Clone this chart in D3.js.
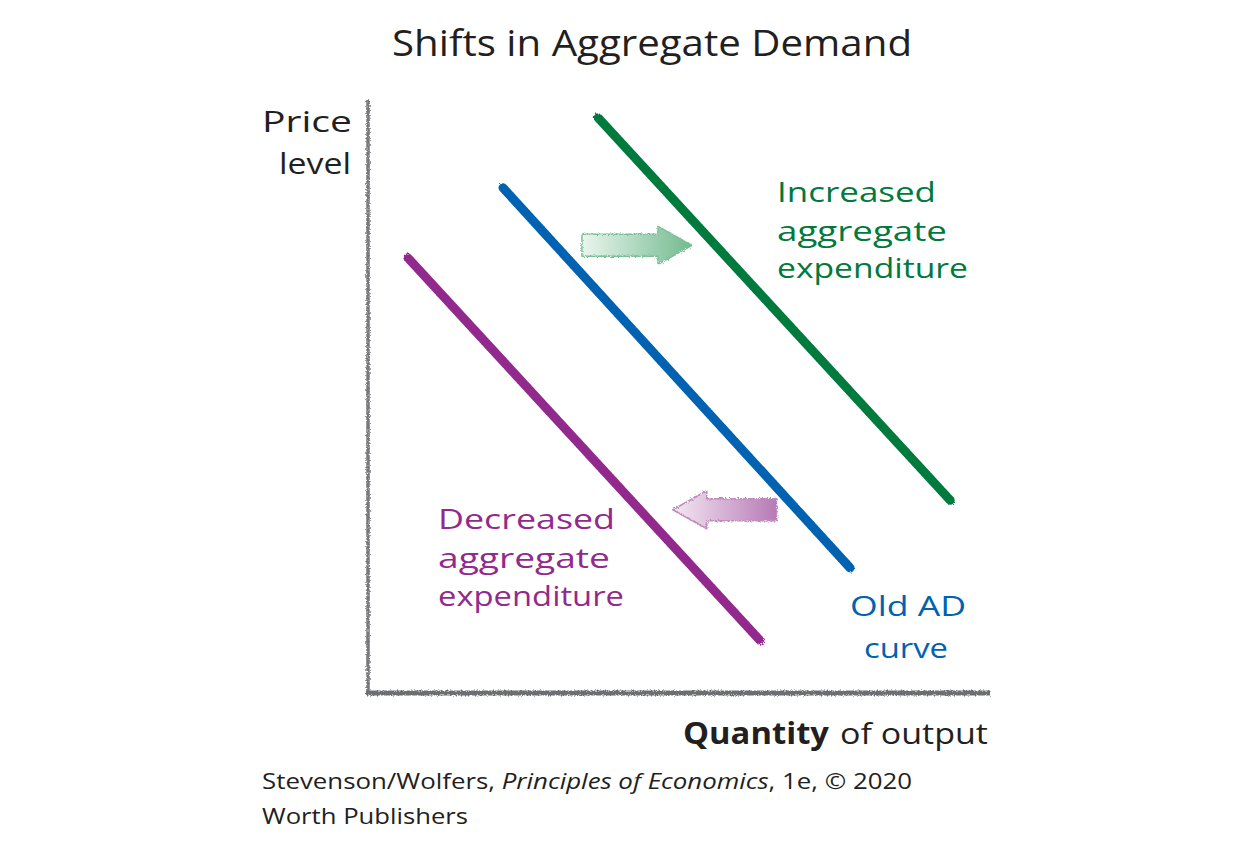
<!DOCTYPE html>
<html><head><meta charset="utf-8">
<script src="https://cdn.jsdelivr.net/npm/d3@7"></script>
<style>
html,body{margin:0;padding:0;background:#fff;}
svg{display:block;}
</style></head>
<body>
<script>
// ---- data (chart units: quantity 0-10, price level 0-10) ----
const curveNames = ["Decreased", "Old AD", "Increased"];
const curveStart = [[0.64, 7.34], [2.17, 8.52], [3.70, 9.70]];
const curveEnd   = [[6.30, 0.89], [7.75, 2.11], [9.36, 3.25]];
const arrowTail  = [[3.44, 7.55], [6.57, 3.09]];
const arrowTip   = [[5.21, 7.55], [4.90, 3.09]];
const labelLines = [
  ["Decreased", "aggregate", "expenditure"],
  ["Old AD", "curve"],
  ["Increased", "aggregate", "expenditure"]
];
const titleText = "Shifts in Aggregate Demand";
const yLabel = ["Price", "level"];
const xLabelBold = "Quantity";
const xLabelRest = "of output";

const W = 1251, H = 848;
const colors = ["#922a8e", "#0062b0", "#007a3c"];
const hand = "'Open Sans', 'Noto Sans', sans-serif";

const svg = d3.select("body").append("svg").attr("width", W).attr("height", H);
const defs = svg.append("defs");
const f = defs.append("filter").attr("id","rough").attr("x","-5%").attr("y","-5%").attr("width","110%").attr("height","110%");
f.append("feTurbulence").attr("type","fractalNoise").attr("baseFrequency","0.7").attr("numOctaves",2).attr("seed",3).attr("result","n");
f.append("feDisplacementMap").attr("in","SourceGraphic").attr("in2","n").attr("scale",4);

const x = d3.scaleLinear().domain([0,10]).range([368, 990]);
const y = d3.scaleLinear().domain([0,10]).range([693, 100]);

// axes
const ax = svg.append("g").attr("filter","url(#rough)");
ax.append("line").attr("x1",x(0)).attr("y1",y(10)).attr("x2",x(0)).attr("y2",y(0)+2)
  .attr("stroke","#78787b").attr("stroke-width",3.5);
ax.append("line").attr("x1",x(0)-2).attr("y1",y(0)).attr("x2",x(10)).attr("y2",y(0))
  .attr("stroke","#6d6e71").attr("stroke-width",5);

// curves
const curves = svg.append("g").attr("filter","url(#rough)");
curveNames.forEach((n,i)=>{
  curves.append("path")
    .attr("d", d3.line()([[x(curveStart[i][0]),y(curveStart[i][1])],[x(curveEnd[i][0]),y(curveEnd[i][1])]]))
    .attr("stroke", colors[i]).attr("stroke-width", 9).attr("stroke-linecap","round").attr("fill","none");
});

// arrows
const arrowFill = [["#eaf5ee","#72ba8f"],["#f4e8f3","#b77ab5"]];
const arrowStroke = ["#7cc096","#c08cbe"];
arrowTail.forEach((t,i)=>{
  const x0 = x(t[0]), y0 = y(t[1]), x1 = x(arrowTip[i][0]);
  const dir = Math.sign(x1 - x0);
  const headLen = 34, bh = 11, hh = 19;
  const xb = x1 - dir*headLen;
  const pts = [[x0,y0-bh],[xb,y0-bh],[xb,y0-hh],[x1,y0],[xb,y0+hh],[xb,y0+bh],[x0,y0+bh]];
  const gid = "ag"+i;
  const g = defs.append("linearGradient").attr("id",gid).attr("gradientUnits","userSpaceOnUse")
    .attr("x1", x0).attr("x2", x1).attr("y1",0).attr("y2",0);
  if (dir>0){
    g.append("stop").attr("offset","0").attr("stop-color",arrowFill[i][0]);
    g.append("stop").attr("offset","1").attr("stop-color",arrowFill[i][1]);
  } else {
    g.append("stop").attr("offset","0").attr("stop-color",arrowFill[i][1]);
    g.append("stop").attr("offset","1").attr("stop-color",arrowFill[i][0]);
  }
  svg.append("path").attr("d", d3.line()(pts)+"Z")
    .attr("fill",`url(#${gid})`).attr("stroke",arrowStroke[i]).attr("stroke-width",1.5)
    .attr("stroke-linejoin","round").attr("filter","url(#rough)");
});

// text helper
function txt(s, px, py, size, color, opts={}){
  const t = svg.append("text").attr("x",px).attr("y",py).attr("font-family",opts.family||hand)
    .attr("font-size",size).attr("fill",color).text(s);
  if (opts.anchor) t.attr("text-anchor",opts.anchor);
  if (opts.weight) t.attr("font-weight",opts.weight);
  if (opts.style) t.attr("font-style",opts.style);
  if (opts.len) t.attr("textLength",opts.len).attr("lengthAdjust","spacingAndGlyphs");
  return t;
}

txt(titleText, 392, 56, 36, "#231f20", {len: 520});
txt(yLabel[0], 262, 132, 30, "#231f20", {len: 90});
txt(yLabel[1], 279, 174, 30, "#231f20", {len: 72});

// curve labels
const labelPos = [
  {x:[438,438,438], y:[529, 568, 606], len:[177, 172, 186]},
  {x:[850,864], y:[616, 658], len:[116, 84]},
  {x:[777,777,777], y:[202, 241, 278], len:[159, 170, 191]}
];
labelLines.forEach((lines,i)=>{
  lines.forEach((s,j)=>{
    txt(s, labelPos[i].x[j], labelPos[i].y[j], 28, colors[i], {len: labelPos[i].len[j]});
  });
});

// x label
txt(xLabelBold, 683, 744, 30, "#231f20", {weight:"bold", len:146});
txt(xLabelRest, 840, 744, 30, "#231f20", {len:148});

// source
const src = svg.append("text").attr("x",262).attr("y",789).attr("font-family","'Open Sans', 'Noto Sans', sans-serif")
  .attr("font-size",22.5).attr("fill","#231f20");
src.append("tspan").text("Stevenson/Wolfers, ");
src.append("tspan").attr("font-style","italic").text("Principles of Economics");
src.append("tspan").text(", 1e, © 2020");
src.attr("textLength",650).attr("lengthAdjust","spacingAndGlyphs");
svg.append("text").attr("x",262).attr("y",824).attr("font-family","'Open Sans', 'Noto Sans', sans-serif")
  .attr("font-size",22.5).attr("fill","#231f20").attr("textLength",206).attr("lengthAdjust","spacingAndGlyphs")
  .text("Worth Publishers");
</script>
</body></html>
